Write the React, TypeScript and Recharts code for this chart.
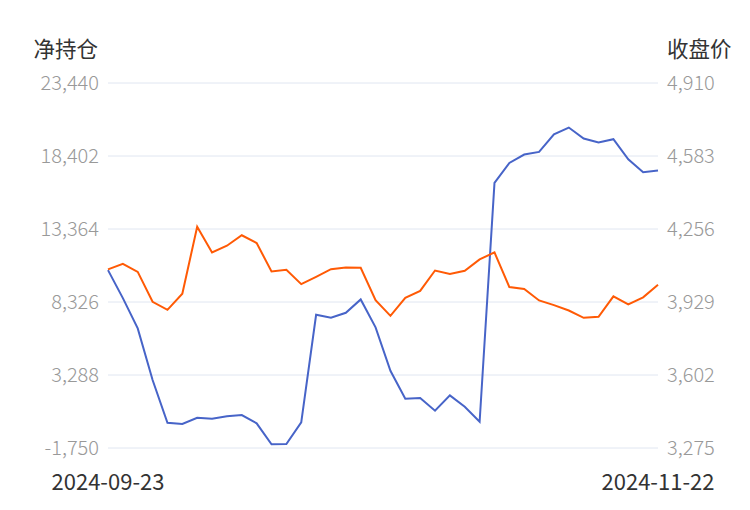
import { LineChart, Line, XAxis, YAxis, CartesianGrid } from 'recharts';

const dates = [
  '2024-09-23', '2024-09-24', '2024-09-25', '2024-09-26', '2024-09-27',
  '2024-10-09', '2024-10-10', '2024-10-11',
  '2024-10-14', '2024-10-15', '2024-10-16', '2024-10-17', '2024-10-18',
  '2024-10-21', '2024-10-22', '2024-10-23', '2024-10-24', '2024-10-25',
  '2024-10-28', '2024-10-29', '2024-10-30', '2024-10-31', '2024-11-01',
  '2024-11-04', '2024-11-05', '2024-11-06', '2024-11-07', '2024-11-08',
  '2024-11-11', '2024-11-12', '2024-11-13', '2024-11-14', '2024-11-15',
  '2024-11-18', '2024-11-19', '2024-11-20', '2024-11-21', '2024-11-22',
];

// 净持仓 (left axis)
const netPosition = [
  10525, 8594, 6505, 2939, -5, -95, 339, 271, 436, 526,
  -47, -1495, -1474, 22, 7442, 7236, 7580, 8504, 6574, 3581,
  1650, 1698, 822, 1884, 1098, 64, 16545, 17925, 18503, 18683,
  19903, 20366, 19607, 19331, 19559, 18179, 17283, 17400,
];

// 收盘价 (right axis)
const closePrice = [
  4075, 4100, 4064, 3930, 3894, 3966, 4266, 4151, 4181, 4228,
  4193, 4066, 4073, 4009, 4042, 4076, 4084, 4082, 3937, 3867,
  3948, 3979, 4070, 4055, 4069, 4120, 4151, 3996, 3987, 3936,
  3915, 3891, 3858, 3863, 3954, 3918, 3950, 4006,
];

const leftTicks = [-1750, 3288, 8326, 13364, 18402, 23440];
const rightTicks = [3275, 3602, 3929, 4256, 4583, 4910];

const data = dates.map((d, i) => ({
  date: d,
  net: netPosition[i],
  close: closePrice[i],
}));

const font = '"Noto Sans CJK SC", "Noto Sans", sans-serif';
const fmt = (v: number) => v.toLocaleString('en-US');

const DateTick = (props: any) => {
  const { x, y, payload } = props;
  return (
    <text x={x} y={y} dy={42} textAnchor="middle" fill="#333" fontSize={22} fontFamily={font}>
      {payload.value}
    </text>
  );
};

export default function App() {
  return (
    <div style={{ position: 'fixed', left: 0, top: 0, width: 750, height: 510, background: '#fff', fontFamily: font }}>
      <div style={{ position: 'absolute', right: 750 - 98, top: 34, fontSize: 21.5, color: '#333', whiteSpace: 'nowrap', lineHeight: '28px' }}>
        净持仓
      </div>
      <div style={{ position: 'absolute', left: 667, top: 34, fontSize: 21.5, color: '#333', whiteSpace: 'nowrap', lineHeight: '28px' }}>
        收盘价
      </div>
      <LineChart width={750} height={510} data={data} margin={{ top: 83, right: 0, bottom: 32, left: 0 }}>
        <CartesianGrid yAxisId="left" vertical={false} stroke="#e0e6f1" />
        <XAxis
          dataKey="date"
          ticks={[dates[0], dates[dates.length - 1]]}
          interval={0}
          height={30}
          tickLine={false}
          axisLine={false}
          tickSize={0}
          tickMargin={0}
          tick={DateTick}
        />
        <YAxis
          yAxisId="left"
          orientation="left"
          width={108}
          domain={[-1750, 23440]}
          ticks={leftTicks}
          interval={0}
          tickFormatter={fmt}
          tickLine={false}
          axisLine={false}
          tickSize={0}
          tickMargin={9}
          tick={{ fill: '#999', fontSize: 20, fontFamily: font, fontWeight: 300 }}
        />
        <YAxis
          yAxisId="right"
          orientation="right"
          width={92}
          domain={[3275, 4910]}
          ticks={rightTicks}
          interval={0}
          tickFormatter={fmt}
          tickLine={false}
          axisLine={false}
          tickSize={0}
          tickMargin={9}
          tick={{ fill: '#999', fontSize: 20, fontFamily: font, fontWeight: 300, textAnchor: 'start' }}
        />
        <Line
          yAxisId="left"
          type="linear"
          dataKey="net"
          stroke="#4764c8"
          strokeWidth={2}
          dot={false}
          isAnimationActive={false}
        />
        <Line
          yAxisId="right"
          type="linear"
          dataKey="close"
          stroke="#ff5a05"
          strokeWidth={2}
          dot={false}
          isAnimationActive={false}
        />
      </LineChart>
    </div>
  );
}
